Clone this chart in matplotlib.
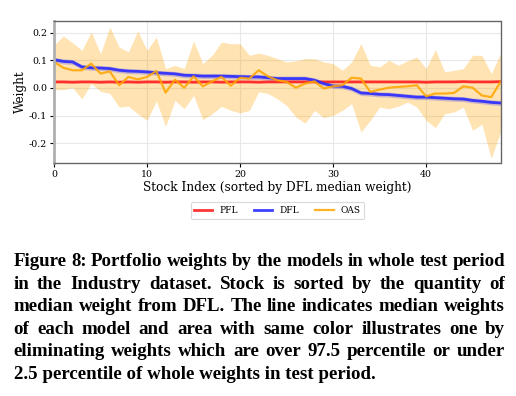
import matplotlib
matplotlib.use("Agg")
import matplotlib.pyplot as plt
import numpy as np

stock_idx = list(range(49))

pfl_median = [0.022, 0.022, 0.021, 0.022, 0.022, 0.021, 0.022, 0.021, 0.022, 0.021,
              0.022, 0.022, 0.021, 0.022, 0.022, 0.021, 0.022, 0.022, 0.021, 0.022,
              0.022, 0.022, 0.021, 0.022, 0.022, 0.022, 0.022, 0.022, 0.022, 0.022,
              0.022, 0.022, 0.022, 0.022, 0.022, 0.022, 0.022, 0.022, 0.022, 0.022,
              0.021, 0.022, 0.022, 0.022, 0.023, 0.022, 0.022, 0.022, 0.023]
pfl_lo = [v - 0.003 for v in pfl_median]
pfl_hi = [v + 0.003 for v in pfl_median]

dfl_median = [0.102, 0.096, 0.094, 0.076, 0.073, 0.072, 0.070, 0.064, 0.061, 0.060,
              0.058, 0.055, 0.053, 0.051, 0.046, 0.045, 0.043, 0.043, 0.043, 0.042,
              0.041, 0.040, 0.040, 0.037, 0.034, 0.034, 0.034, 0.034, 0.028, 0.016,
              0.007, 0.006, -0.002, -0.018, -0.020, -0.023, -0.024, -0.027, -0.030, -0.033,
              -0.033, -0.035, -0.037, -0.039, -0.040, -0.045, -0.048, -0.052, -0.054]
dfl_lo = [v - 0.009 for v in dfl_median]
dfl_hi = [v + 0.009 for v in dfl_median]

oas_median = [0.094, 0.073, 0.064, 0.064, 0.088, 0.052, 0.060, 0.010, 0.040, 0.031,
              0.040, 0.061, -0.017, 0.030, 0.001, 0.042, 0.006, 0.024, 0.040, 0.008,
              0.037, 0.034, 0.064, 0.042, 0.028, 0.022, 0.001, 0.016, 0.024, -0.002,
              0.006, 0.010, 0.037, 0.034, -0.014, -0.006, 0.001, 0.004, 0.006, 0.010,
              -0.030, -0.020, -0.020, -0.018, 0.006, 0.001, -0.027, -0.033, 0.022]
oas_hi = [0.154, 0.188, 0.163, 0.136, 0.202, 0.124, 0.220, 0.148, 0.130, 0.206,
          0.136, 0.184, 0.070, 0.082, 0.070, 0.170, 0.088, 0.118, 0.166, 0.160,
          0.160, 0.118, 0.126, 0.118, 0.106, 0.094, 0.098, 0.106, 0.106, 0.094,
          0.088, 0.064, 0.094, 0.160, 0.082, 0.076, 0.100, 0.082, 0.098, 0.112,
          0.070, 0.139, 0.058, 0.064, 0.070, 0.118, 0.118, 0.052, 0.124]
oas_lo = [-0.006, -0.006, 0.001, -0.039, 0.016, -0.012, -0.020, -0.069, -0.066, -0.093,
          -0.117, -0.047, -0.139, -0.045, -0.075, -0.027, -0.114, -0.093, -0.066, -0.081,
          -0.090, -0.081, -0.014, -0.020, -0.039, -0.063, -0.105, -0.127, -0.081, -0.107,
          -0.099, -0.081, -0.057, -0.159, -0.117, -0.069, -0.075, -0.066, -0.051, -0.069,
          -0.117, -0.143, -0.093, -0.087, -0.069, -0.153, -0.131, -0.254, -0.159]

caption_lines = [
    "Figure 8: Portfolio weights by the models in whole test period",
    "in the Industry dataset. Stock is sorted by the quantity of",
    "median weight from DFL. The line indicates median weights",
    "of each model and area with same color illustrates one by",
    "eliminating weights which are over 97.5 percentile or under",
    "2.5 percentile of whole weights in test period.",
]

W, H = 516, 396
fig = plt.figure(figsize=(W / 100, H / 100), dpi=100)
ax = fig.add_axes([54 / W, 1 - 163.3 / H, (500.5 - 54) / W, (163.3 - 20.7) / H])

serif = ["DejaVu Serif"]
c_red = "#ff2020"
c_blue = "#2a2aff"
c_orange = "#ffa500"

ax.fill_between(stock_idx, oas_lo, oas_hi, color=c_orange, alpha=0.3, linewidth=0)
ax.fill_between(stock_idx, dfl_lo, dfl_hi, color=c_blue, alpha=0.25, linewidth=0)
ax.fill_between(stock_idx, pfl_lo, pfl_hi, color=c_red, alpha=0.25, linewidth=0)
ax.plot(stock_idx, pfl_median, color=c_red, lw=2, alpha=0.9, label="PFL")
ax.plot(stock_idx, dfl_median, color=c_blue, lw=2, alpha=0.9, label="DFL")
ax.plot(stock_idx, oas_median, color=c_orange, lw=1.6, alpha=0.85, label="OAS")

ax.set_xlim(0, 48)
ax.set_ylim(-0.272, 0.243)
ax.set_xticks([0, 10, 20, 30, 40])
ax.set_yticks([-0.2, -0.1, 0.0, 0.1, 0.2])
ax.set_yticklabels(["-0.2", "-0.1", "0.0", "0.1", "0.2"])
ax.grid(True, color="#e8e8e8", lw=0.8)
ax.set_axisbelow(True)
for lab in ax.get_xticklabels() + ax.get_yticklabels():
    lab.set_family(serif)
    lab.set_fontsize(6.8)
ax.tick_params(length=3, width=0.8, pad=2, colors="black")
for s in ["top", "right", "bottom"]:
    ax.spines[s].set_color("#666666")
    ax.spines[s].set_linewidth(1.0)
ax.spines["left"].set_color("#b0b0b0")
ax.spines["left"].set_linewidth(2.0)

ax.set_xlabel("Stock Index (sorted by DFL median weight)", family=serif, fontsize=8.7, labelpad=1)
ax.set_ylabel("Weight", family=serif, fontsize=8.7, labelpad=1)

leg = fig.legend(loc="center", bbox_to_anchor=(277.5 / W, 1 - 210.5 / H), ncol=3,
                 prop={"family": serif, "size": 6.5}, frameon=True, handlelength=2.0,
                 columnspacing=1.8, borderpad=0.4, handletextpad=0.8, fancybox=True)
leg.get_frame().set_edgecolor("#d0d0d0")
leg.get_frame().set_linewidth(0.8)

# caption, justified
cap_font = dict(family=["Liberation Serif"], weight="bold", fontsize=13.6)
x_left, x_right = 13.5, 505.0
base0, step = 266.0, 22.6
renderer = fig.canvas.get_renderer()
for li, line in enumerate(caption_lines):
    yb = 1 - (base0 + li * step) / H
    words = line.split(" ")
    if li == len(caption_lines) - 1:
        fig.text(x_left / W, yb, line, ha="left", va="baseline", **cap_font)
        continue
    widths = []
    for w in words:
        t = fig.text(0, 0, w, **cap_font)
        bb = t.get_window_extent(renderer)
        widths.append(bb.width)
        t.remove()
    gap = (x_right - x_left - sum(widths)) / (len(words) - 1)
    x = x_left
    for w, wd in zip(words, widths):
        fig.text(x / W, yb, w, ha="left", va="baseline", **cap_font)
        x += wd + gap

fig.savefig("out.png", dpi=100)
